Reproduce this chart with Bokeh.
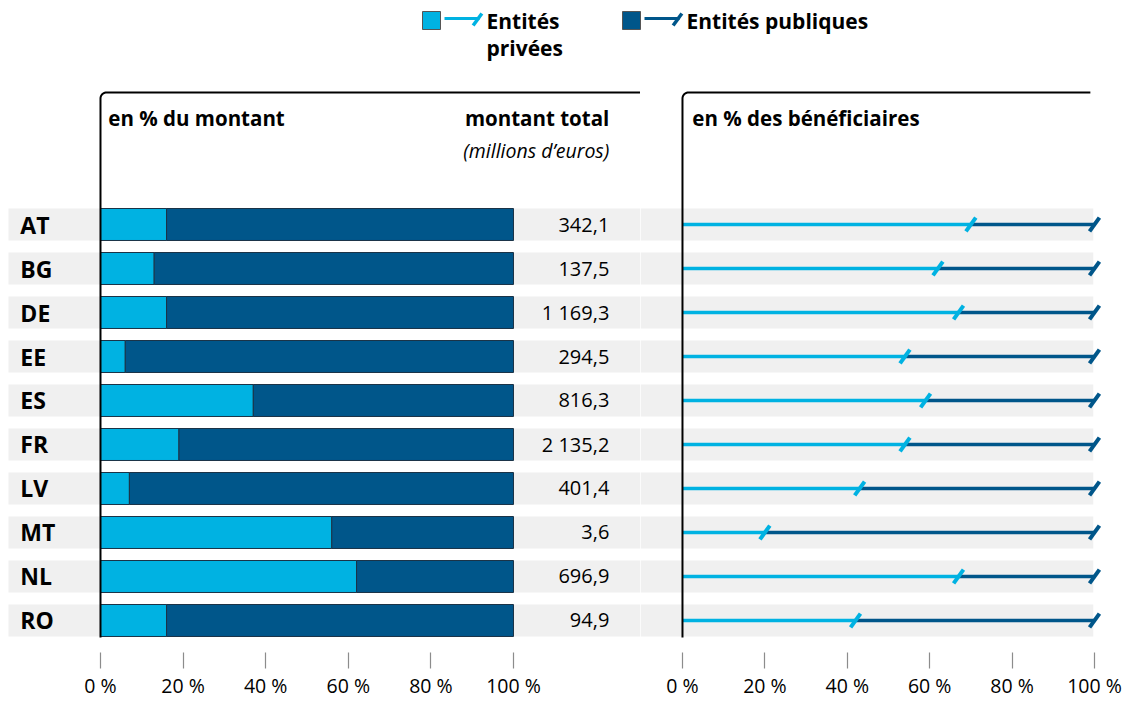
import numpy as np
from bokeh.plotting import figure
from bokeh.models import Range1d, FixedTicker, ColumnDataSource
from bokeh.layouts import column, row
from bokeh.embed import file_html
from bokeh.resources import INLINE
from bokeh.core.properties import value

# ---------------- data ----------------
countries = ["AT", "BG", "DE", "EE", "ES", "FR", "LV", "MT", "NL", "RO"]
private_amount_pct = [16, 13, 16, 6, 37, 19, 7, 56, 62, 16]
public_amount_pct = [100 - v for v in private_amount_pct]
total_amount = [342.1, 137.5, 1169.3, 294.5, 816.3, 2135.2, 401.4, 3.6, 696.9, 94.9]
private_benef_pct = [70, 62, 67, 54, 59, 54, 43, 20, 67, 42]
public_benef_pct = [100 - v for v in private_benef_pct]
tick_values = [0, 20, 40, 60, 80, 100]
tick_labels = ["0 %", "20 %", "40 %", "60 %", "80 %", "100 %"]
series_names = ["Entités privées", "Entités publiques"]

# ---------------- style ----------------
LIGHT = "#00B2E2"
DARK = "#00568A"
BAND = "#F0F0F0"
OUTLINE = "#1b3347"
FONT = "Open Sans"

n = len(countries)
ys = [n - 1 - i for i in range(n)]
Y0, Y1 = -1.091, 12.091
BH = 0.727

def fr(v):
    return f"{v:,.1f}".replace(",", " ").replace(".", ",")

totals_txt = [fr(v) for v in total_amount]

src = ColumnDataSource(dict(
    y=ys, country=countries,
    priv_amt=private_amount_pct,
    pub_end=[p + q for p, q in zip(private_amount_pct, public_amount_pct)],
    total=totals_txt,
    priv_ben=private_benef_pct,
    ben_end=[p + q for p, q in zip(private_benef_pct, public_benef_pct)],
))


def base_fig(fw, xr):
    p = figure(frame_width=fw, frame_height=580, x_range=xr,
               y_range=Range1d(Y0, Y1), output_backend="svg",
               toolbar_location=None, y_axis_type=None,
               min_border_left=0, min_border_right=0, min_border_top=0,
               min_border_bottom=0)
    p.grid.visible = False
    p.outline_line_color = None
    p.background_fill_color = "white"
    p.border_fill_color = "white"
    ax = p.xaxis[0]
    ax.ticker = FixedTicker(ticks=tick_values)
    ax.major_label_overrides = {v: l for v, l in zip(tick_values, tick_labels)}
    ax.axis_line_color = None
    ax.major_tick_in = 16
    ax.major_tick_out = 0
    ax.major_tick_line_color = "#8c8c8c"
    ax.major_tick_line_width = 1.2
    ax.minor_tick_line_color = None
    ax.major_label_text_font = FONT
    ax.major_label_text_font_size = "19.5px"
    ax.major_label_text_color = "black"
    ax.major_label_standoff = 3
    return p


def frame_line(p, x_end, rx, ry, y_bottom=-0.386, y_top=12.0):
    t = np.linspace(np.pi, np.pi / 2, 12)
    xs = [0.0] + list(rx + rx * np.cos(t)) + [x_end]
    yy = [y_bottom] + list(y_top - ry + ry * np.sin(t)) + [y_top]
    p.line(xs, yy, line_color="black", line_width=2)


# ---------------- left panel ----------------
LX0, LX1 = -24.21, 130.75
BAND_L = -22.28
left = base_fig(640, Range1d(LX0, LX1))
left.hbar(y="y", left=BAND_L, right=LX1 + 5, height=BH, source=src,
          fill_color=BAND, line_color=None)
left.hbar(y="y", left=0, right="priv_amt", height=BH, source=src,
          fill_color=LIGHT, line_color=OUTLINE, line_width=1)
left.hbar(y="y", left="priv_amt", right="pub_end", height=BH, source=src,
          fill_color=DARK, line_color=OUTLINE, line_width=1)
left.text(x=-19.4, y="y", text="country", source=src,
          text_font=value(FONT), text_font_style="bold",
          text_font_size="23px", text_baseline="middle", text_color="black")
left.text(x=123.2, y="y", text="total", source=src,
          text_font=value(FONT), text_font_size="20px",
          text_baseline="middle", text_align="right", text_color="black")
left.text(x=[1.9], y=[11.41], text=["en % du montant"],
          text_font=value(FONT), text_font_style="bold",
          text_font_size="20.5px", text_baseline="middle")
left.text(x=[123.2], y=[11.41], text=["montant total"],
          text_font=value(FONT), text_font_style="bold",
          text_font_size="20.5px", text_baseline="middle", text_align="right")
left.text(x=[123.2], y=[10.68], text=["(millions d\u2019euros)"],
          text_font=value(FONT), text_font_style="italic",
          text_font_size="19.5px", text_baseline="middle", text_align="right")
frame_line(left, LX1, 6 / 4.13, 6 / 44)

# ---------------- right panel ----------------
RX0, RX1 = -10.19, 108.74
right = base_fig(490, Range1d(RX0, RX1))
right.hbar(y="y", left=RX0 - 5, right=99.7, height=BH, source=src,
           fill_color=BAND, line_color=None)
right.segment(x0="priv_ben", y0="y", x1="ben_end", y1="y", source=src,
              line_color=DARK, line_width=3.5)
right.segment(x0=0, y0="y", x1="priv_ben", y1="y", source=src,
              line_color=LIGHT, line_width=3.5)
right.scatter(x="ben_end", y="y", source=src, marker="dash", size=17,
              angle=0.95, line_color=DARK, line_width=4)
right.scatter(x="priv_ben", y="y", source=src, marker="dash", size=17,
              angle=0.95, line_color=LIGHT, line_width=4)
right.text(x=[2.4], y=[11.41], text=["en % des bénéficiaires"],
           text_font=value(FONT), text_font_style="bold",
           text_font_size="20.5px", text_baseline="middle")
frame_line(right, 99.0, 6 / 4.12, 6 / 44)

# ---------------- legend ----------------
leg = figure(width=1130, height=88, x_range=Range1d(0, 1130),
             y_range=Range1d(0, 88), output_backend="svg",
             toolbar_location=None, x_axis_type=None, y_axis_type=None,
             min_border=0)
leg.grid.visible = False
leg.outline_line_color = None

def py(v):
    return 88 - v

for x_sq, col, lines in [(431, LIGHT, ["Entités", "privées"]),
                         (631, DARK, ["Entités publiques"])]:
    leg.rect(x=[x_sq], y=[py(20)], width=18, height=18,
             fill_color=col, line_color="#555555", line_width=1)
    leg.segment(x0=[x_sq + 13], y0=[py(18)], x1=[x_sq + 48], y1=[py(18)],
                line_color=col, line_width=3)
    leg.scatter(x=[x_sq + 46], y=[py(19)], marker="dash", size=15,
                angle=0.95, line_color=col, line_width=3.5)
    for k, t in enumerate(lines):
        leg.text(x=[x_sq + 55], y=[py(20 + 27 * k)], text=[t],
                 text_font=value(FONT), text_font_style="bold",
                 text_font_size="21px", text_baseline="middle")

layout = column(leg, row(left, right, spacing=0), spacing=0)
open("out.html", "w").write(file_html(layout, INLINE))
